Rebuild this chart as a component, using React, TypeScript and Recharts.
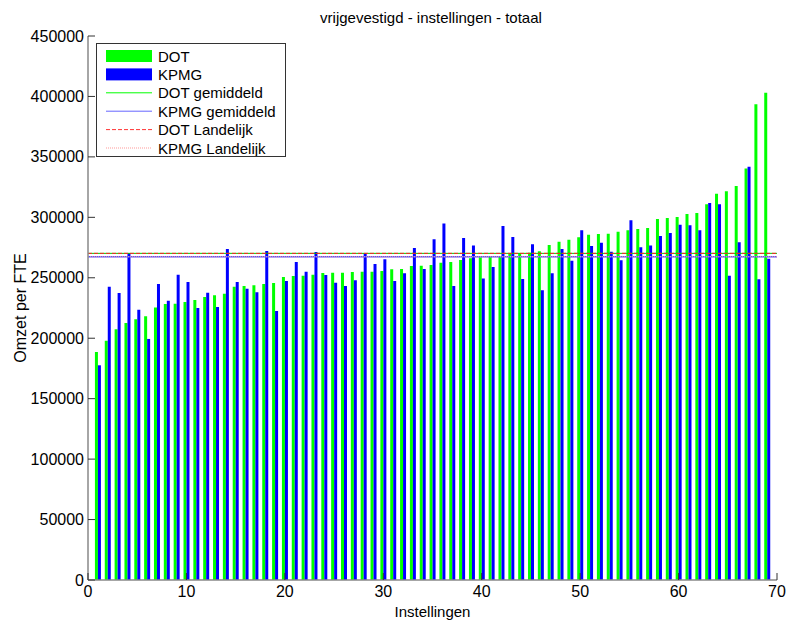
import { BarChart, Bar, XAxis, YAxis, ReferenceLine } from 'recharts'

// omzet per FTE, per instelling (gesorteerd op DOT)
const DOT = [
  188600, 197900, 207400, 212600, 215600, 218100, 225500, 228300, 228600, 230000,
  231600, 234100, 235500, 236800, 242600, 243200, 243800, 244900, 245700, 250600,
  251500, 251700, 252600, 254000, 254200, 254200, 254800, 255000, 255000, 255600,
  257000, 257300, 259700, 260000, 260600, 262500, 263100, 264700, 266100, 266900,
  267200, 268000, 270200, 270200, 270700, 271900, 277100, 279800, 281500, 283500,
  285600, 286200, 286500, 288100, 289300, 290300, 291200, 298600, 299500, 300300,
  302800, 303600, 310800, 319600, 321500, 325900, 340300, 393500, 403100,
]

const KPMG = [
  177600, 242600, 237400, 270200, 223600, 199400, 244900, 231100, 252600, 246500,
  225000, 237700, 225800, 273800, 246500, 241000, 238000, 272100, 222500, 247300,
  263000, 255000, 271300, 252300, 245900, 243200, 247900, 270200, 261400, 265300,
  247300, 253700, 274600, 257300, 281800, 295000, 243200, 282900, 276800, 249300,
  258900, 292800, 283700, 249000, 277700, 239600, 253700, 273800, 264100, 289300,
  276300, 279000, 271600, 264400, 297500, 275200, 276600, 284600, 287000, 293900,
  293400, 289300, 311900, 310800, 251700, 279300, 341900, 248700, 265800,
]

const DOT_GEMIDDELD = 270200
const KPMG_GEMIDDELD = 267400
const DOT_LANDELIJK = 270200
const KPMG_LANDELIJK = 267400

const Y_TICKS = [0, 50000, 100000, 150000, 200000, 250000, 300000, 350000, 400000, 450000]
const X_TICKS = [0, 10, 20, 30, 40, 50, 60, 70]

const TITLE = 'vrijgevestigd - instellingen - totaal'

const data = DOT.map((dot, i) => ({ nr: i + 1, dot, kpmg: KPMG[i] }))

const FONT = '"Liberation Sans", Arial, Helvetica, sans-serif'
const TICK_MARGIN = 4
const TICK_LEN = 7

const YTick = (props: any) => {
  const { x, y, payload } = props
  const ax = x + TICK_MARGIN
  return (
    <g>
      <line x1={ax} x2={ax + TICK_LEN} y1={y} y2={y} stroke="#333" strokeWidth={1} />
      <text x={x} y={y} dy={5.5} textAnchor="end" fontSize={16} fontFamily={FONT} fill="#000">
        {payload.value}
      </text>
    </g>
  )
}

const XTick = (props: any) => {
  const { x, y, payload } = props
  const ay = y - TICK_MARGIN
  return (
    <g>
      <line x1={x} x2={x} y1={ay} y2={ay - TICK_LEN} stroke="#333" strokeWidth={1} />
      <text x={x} y={y} dy={13} textAnchor="middle" fontSize={16} fontFamily={FONT} fill="#000">
        {payload.value}
      </text>
    </g>
  )
}

const YLabel = (props: any) => {
  const vb = props.viewBox
  const cx = vb.x + 20
  const cy = vb.y + vb.height / 2
  return (
    <text
      x={cx}
      y={cy}
      transform={`rotate(-90 ${cx} ${cy})`}
      textAnchor="middle"
      dominantBaseline="central"
      fontSize={16}
      fontFamily={FONT}
      fill="#000"
    >
      Omzet per FTE
    </text>
  )
}

const LEGEND = [
  { name: 'DOT', kind: 'patch', color: '#00ff00' },
  { name: 'KPMG', kind: 'patch', color: '#0000ff' },
  { name: 'DOT gemiddeld', kind: 'line', color: '#00ff00' },
  { name: 'KPMG gemiddeld', kind: 'line', color: '#6666ff' },
  { name: 'DOT Landelijk', kind: 'line', color: '#ff3333', dash: '4 2' },
  { name: 'KPMG Landelijk', kind: 'line', color: '#ff9999', dash: '1 1' },
]

function LegendBox() {
  return (
    <svg
      width={190}
      height={114}
      style={{ position: 'absolute', left: 96, top: 43, background: '#fff', border: '1px solid #333', boxSizing: 'border-box' }}
    >
      {LEGEND.map((e, i) => {
        const cy = 12 + i * 18.4
        return (
          <g key={e.name}>
            {e.kind === 'patch' ? (
              <rect x={9} y={cy - 6} width={46} height={12} fill={e.color} />
            ) : (
              <line x1={9} x2={55} y1={cy} y2={cy} stroke={e.color} strokeWidth={1} strokeDasharray={e.dash} />
            )}
            <text x={61} y={cy} dy={5.5} fontSize={15} fontFamily={FONT} fill="#000">
              {e.name}
            </text>
          </g>
        )
      })}
    </svg>
  )
}

export default function App() {
  return (
    <div style={{ position: 'absolute', left: 0, top: 0, width: 788, height: 623, background: '#fff' }}>
      <div
        style={{
          position: 'absolute',
          left: 0,
          top: 9,
          width: 862,
          textAlign: 'center',
          fontFamily: FONT,
          fontSize: 15,
          color: '#000',
        }}
      >
        {TITLE}
      </div>
      <BarChart
        width={788}
        height={623}
        data={data}
        margin={{ top: 36, right: 11, bottom: 0, left: 0 }}
        barGap={0}
        barSize={3}
      >
        <XAxis
          dataKey="nr"
          type="number"
          domain={[0, 70]}
          ticks={X_TICKS}
          interval={0}
          height={43}
          tickSize={0}
          tickMargin={TICK_MARGIN}
          tick={<XTick />}
          axisLine={{ stroke: '#888', strokeWidth: 1.5 }}
          allowDataOverflow
          label={{ value: 'Instellingen', position: 'insideBottom', offset: 6, fontSize: 15, fontFamily: FONT, fill: '#000' }}
        />
        <YAxis
          type="number"
          domain={[0, 450000]}
          ticks={Y_TICKS}
          interval={0}
          width={88}
          tickSize={0}
          tickMargin={TICK_MARGIN}
          tick={<YTick />}
          axisLine={{ stroke: '#888', strokeWidth: 1.5 }}
          label={<YLabel />}
        />
        <YAxis
          yAxisId="right"
          orientation="right"
          width={0}
          tick={false}
          tickLine={false}
          axisLine={{ stroke: '#888', strokeWidth: 1 }}
        />
        <Bar dataKey="dot" name="DOT" fill="#00ff00" isAnimationActive={false} />
        <Bar dataKey="kpmg" name="KPMG" fill="#0000ff" isAnimationActive={false} />
        <ReferenceLine y={DOT_GEMIDDELD} stroke="#00cc00" strokeWidth={1} />
        <ReferenceLine y={KPMG_GEMIDDELD} stroke="#5555ff" strokeWidth={1.5} />
        <ReferenceLine y={DOT_LANDELIJK} stroke="#ff2222" strokeWidth={1} strokeDasharray="4 2" />
        <ReferenceLine y={KPMG_LANDELIJK} stroke="#ff9999" strokeWidth={1} strokeDasharray="1 1" />
      </BarChart>
      <LegendBox />
    </div>
  )
}
